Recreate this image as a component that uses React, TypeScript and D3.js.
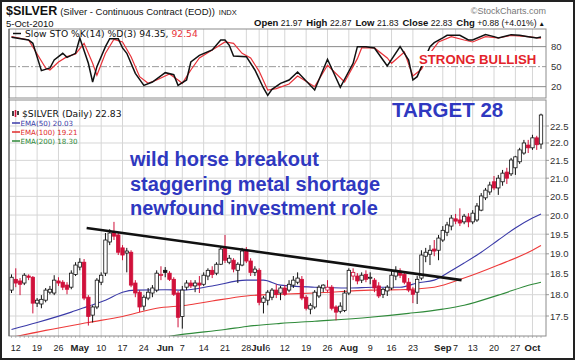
import React, { useEffect, useRef } from 'react';
import * as d3 from 'd3';

// Trading days shown on the chart (weekends + market holidays skipped)
const firstDay = "2010-04-09";
const lastDay = "2010-10-05";
const holidays = ["2010-05-31", "2010-07-05", "2010-09-06"];

// Daily OHLC, one value per trading day (Apr 9 .. Oct 5)
const openP = [
  18.11, 18.37, 18.33, 18.28, 18.45, 18.42, 17.80, 17.78, 17.87, 18.06,
  18.04, 18.33, 18.30, 18.23, 18.18, 18.49, 18.67, 18.79, 17.94, 17.52,
  17.71, 18.30, 18.52, 19.30, 19.55, 19.48, 19.15, 19.02, 19.04, 18.28,
  18.06, 17.73, 17.92, 18.04, 18.11, 18.47, 18.59, 18.52, 18.37, 18.04,
  17.49, 18.18, 18.28, 18.21, 18.28, 18.25, 18.45, 18.59, 18.52, 18.74,
  19.15, 18.79, 18.84, 18.59, 18.72, 19.09, 18.82, 18.54, 18.59, 17.82,
  17.87, 17.94, 18.11, 18.04, 18.16, 18.11, 18.23, 18.30, 18.37, 17.94,
  17.66, 17.71, 17.97, 18.16, 18.11, 18.18, 17.71, 17.61, 17.63, 18.04,
  18.45, 18.45, 18.35, 18.49, 18.40, 18.35, 18.21, 18.01, 18.09, 18.16,
  18.45, 18.57, 18.49, 18.30, 18.11, 18.06, 18.40, 18.94, 18.99, 19.12,
  19.09, 19.35, 19.55, 19.71, 19.90, 19.87, 19.82, 19.95, 19.82, 19.87,
  20.13, 20.46, 20.62, 20.90, 20.73, 20.90, 21.17, 21.12, 21.29, 21.46,
  21.71, 21.94, 21.86, 22.15, 21.97
];
const highP = [
  18.49, 18.64, 18.40, 18.52, 18.49, 18.45, 17.92, 17.99, 18.16, 18.21,
  18.47, 18.42, 18.35, 18.30, 18.59, 18.79, 18.89, 18.87, 17.99, 17.75,
  18.40, 18.54, 19.53, 19.63, 19.82, 19.55, 19.22, 19.15, 19.09, 18.35,
  18.11, 17.99, 18.16, 18.23, 18.59, 18.69, 18.67, 18.57, 18.42, 18.09,
  18.21, 18.35, 18.35, 18.35, 18.45, 18.54, 18.64, 18.69, 18.79, 19.20,
  19.48, 18.97, 18.89, 18.79, 19.15, 19.17, 18.89, 18.69, 18.64, 17.97,
  18.11, 18.16, 18.25, 18.21, 18.23, 18.35, 18.45, 18.54, 18.45, 17.99,
  17.80, 18.11, 18.23, 18.25, 18.35, 18.23, 17.75, 17.82, 18.11, 18.64,
  18.64, 18.52, 18.54, 18.59, 18.54, 18.40, 18.30, 18.16, 18.23, 18.59,
  18.69, 18.64, 18.54, 18.40, 18.18, 18.45, 19.09, 19.15, 19.22, 19.35,
  19.48, 19.71, 19.82, 20.00, 20.03, 20.18, 20.03, 20.05, 20.13, 20.32,
  20.59, 20.73, 20.90, 21.06, 21.09, 21.23, 21.29, 21.57, 21.63, 21.86,
  22.09, 22.09, 22.24, 22.21, 22.87
];
const lowP = [
  18.04, 18.18, 17.99, 18.23, 18.35, 17.56, 17.71, 17.68, 17.82, 18.01,
  17.99, 18.21, 18.11, 18.01, 18.13, 18.45, 18.59, 17.87, 17.28, 17.35,
  17.66, 18.23, 18.45, 19.22, 19.35, 18.97, 18.84, 18.54, 18.18, 17.94,
  17.59, 17.63, 17.87, 17.94, 18.06, 18.35, 18.42, 18.33, 17.97, 17.24,
  17.21, 18.11, 18.16, 18.06, 18.04, 18.21, 18.35, 18.40, 18.47, 18.72,
  18.77, 18.74, 18.54, 18.28, 18.69, 18.77, 18.45, 18.45, 17.75, 17.56,
  17.75, 17.87, 17.92, 17.87, 17.97, 18.06, 18.16, 18.25, 17.87, 17.63,
  17.54, 17.66, 17.92, 18.06, 18.06, 17.63, 17.40, 17.56, 17.59, 17.99,
  18.35, 18.25, 18.28, 18.30, 18.25, 18.06, 17.92, 17.92, 17.97, 18.11,
  18.35, 18.40, 18.25, 18.06, 17.80, 17.78, 18.35, 18.79, 18.72, 18.94,
  18.84, 19.30, 19.45, 19.60, 19.76, 19.71, 19.76, 19.68, 19.76, 19.82,
  20.10, 20.40, 20.54, 20.67, 20.54, 20.79, 20.84, 21.06, 21.09, 21.40,
  21.66, 21.71, 21.80, 21.80, 21.83
];
const closeP = [
  18.42, 18.28, 18.25, 18.47, 18.42, 17.80, 17.87, 17.89, 18.11, 18.13,
  18.35, 18.28, 18.18, 18.13, 18.52, 18.72, 18.79, 17.92, 17.49, 17.71,
  18.35, 18.47, 19.35, 19.53, 19.45, 19.04, 18.97, 19.07, 18.23, 18.04,
  17.71, 17.94, 18.06, 18.16, 18.52, 18.49, 18.54, 18.37, 18.01, 17.47,
  18.11, 18.28, 18.21, 18.28, 18.23, 18.47, 18.59, 18.49, 18.74, 19.12,
  18.84, 18.89, 18.62, 18.74, 19.07, 18.82, 18.54, 18.62, 17.82, 17.92,
  18.06, 18.11, 18.01, 18.16, 18.01, 18.25, 18.35, 18.40, 17.92, 17.68,
  17.75, 18.06, 18.18, 18.23, 18.18, 17.68, 17.59, 17.73, 18.04, 18.59,
  18.54, 18.33, 18.47, 18.37, 18.42, 18.16, 17.97, 18.13, 18.18, 18.47,
  18.59, 18.47, 18.30, 18.11, 18.01, 18.37, 18.97, 19.04, 19.09, 19.07,
  19.40, 19.60, 19.74, 19.92, 19.84, 19.79, 19.97, 19.82, 20.05, 20.24,
  20.51, 20.67, 20.81, 20.73, 21.00, 21.14, 21.00, 21.51, 21.60, 21.80,
  22.00, 21.86, 22.15, 21.95, 22.83
];

// Moving averages: [trading day index, price]
const ema50 = [
  [0, 17.19], [6, 17.35], [14, 17.59], [18, 17.73], [22, 17.87], [26, 18.06], [29, 18.11],
  [36, 18.12], [40, 18.11], [47, 18.21], [55, 18.35], [59, 18.35], [63, 18.23], [71, 18.18],
  [79, 18.16], [85, 18.18], [91, 18.18], [95, 18.28], [99, 18.35], [102, 18.52], [106, 18.77],
  [110, 19.04], [114, 19.35], [118, 19.66], [122, 19.92], [124, 20.03]
];
const ema100 = [
  [0, 17.01], [8, 17.17], [18, 17.35], [26, 17.49], [34, 17.68], [41, 17.75], [47, 17.85],
  [55, 17.97], [63, 18.01], [71, 18.04], [84, 18.11], [91, 18.12], [99, 18.18], [106, 18.40],
  [114, 18.72], [122, 19.09], [124, 19.21]
];
const ema200 = [
  [31, 16.94], [40, 17.08], [50, 17.19], [55, 17.26], [63, 17.33], [71, 17.38], [84, 17.47],
  [93, 17.56], [101, 17.66], [106, 17.75], [114, 17.99], [122, 18.25], [124, 18.30]
];
const trendLine = [[17.6, 19.66], [105.4, 18.35]];

// Slow stochastics: [trading day index, value]
const stoK = [
  [0, 94], [4, 90], [5, 85], [7, 44], [9, 48], [10, 60], [12, 70], [13, 64], [15, 70], [16, 93],
  [18, 55], [19, 27], [20, 50], [22, 80], [23, 92], [25, 92], [26, 78], [27, 70], [29, 40], [31, 22],
  [33, 27], [36, 41], [38, 38], [39, 22], [41, 30], [42, 57], [44, 67], [47, 75], [49, 90], [50, 90],
  [51, 82], [52, 66], [55, 65], [57, 45], [59, 18], [60, 7], [61, 16], [63, 25], [65, 30], [67, 42],
  [71, 15], [74, 61], [77, 19], [80, 55], [81, 80], [83, 80], [85, 78], [87, 60], [88, 51], [91, 80],
  [93, 60], [94, 30], [95, 35], [96, 50], [98, 80], [99, 86], [101, 93], [102, 97], [105, 97], [107, 90],
  [108, 90], [111, 98], [113, 95], [114, 93], [117, 98], [119, 97], [121, 95], [123, 93], [124, 94.35]
];
const stoD = [
  [0, 95], [4, 90], [8, 48], [9, 45], [11, 57], [13, 65], [15, 69], [17, 85], [19, 55], [20, 37],
  [22, 70], [24, 91], [26, 87], [28, 65], [30, 35], [32, 25], [34, 30], [37, 39], [39, 30], [40, 25],
  [42, 45], [44, 63], [47, 75], [50, 87], [52, 85], [54, 70], [56, 63], [58, 43], [60, 15], [62, 17],
  [65, 24], [67, 36], [71, 20], [74, 52], [78, 27], [81, 62], [82, 78], [85, 78], [88, 63], [89, 55],
  [92, 72], [94, 36], [96, 46], [98, 70], [100, 87], [103, 95], [106, 90], [108, 87], [111, 95], [114, 93],
  [117, 97], [121, 95], [124, 92.54]
];

const xTicks = [
  ["2010-04-12", "12"], ["2010-04-19", "19"], ["2010-04-26", "26"], ["2010-05-03", "May"],
  ["2010-05-10", "10"], ["2010-05-17", "17"], ["2010-05-24", "24"], ["2010-06-01", "Jun"],
  ["2010-06-07", "7"], ["2010-06-14", "14"], ["2010-06-21", "21"], ["2010-06-28", "28"],
  ["2010-07-01", "Jul"], ["2010-07-06", "6"], ["2010-07-12", "12"], ["2010-07-19", "19"],
  ["2010-07-26", "26"], ["2010-08-02", "Aug"], ["2010-08-09", "9"], ["2010-08-16", "16"],
  ["2010-08-23", "23"], ["2010-09-01", "Sep"], ["2010-09-07", "7"], ["2010-09-13", "13"],
  ["2010-09-20", "20"], ["2010-09-27", "27"], ["2010-10-01", "Oct"]
];
const priceTicks = [17.5, 18.0, 18.5, 19.0, 19.5, 20.0, 20.5, 21.0, 21.5, 22.0, 22.5];
const stoTicks = [20, 50, 80];
const notes = ["wild horse breakout", "staggering metal shortage", "newfound investment role"];

function tradingDays() {
  const out: string[] = [];
  const skip = new Set(holidays);
  const end = new Date(lastDay + "T12:00:00Z");
  for (let d = new Date(firstDay + "T12:00:00Z"); d <= end; d.setUTCDate(d.getUTCDate() + 1)) {
    const wd = d.getUTCDay();
    const s = d.toISOString().slice(0, 10);
    if (wd === 0 || wd === 6 || skip.has(s)) continue;
    out.push(s);
  }
  return out;
}

const SANS = "'Liberation Sans', Arial, sans-serif";
const SMALL = "'DejaVu Sans', Verdana, sans-serif";

export default function App() {
  const svgRef = useRef<SVGSVGElement>(null);

  useEffect(() => {
    if (!svgRef.current) return;
    const svg = d3.select(svgRef.current);
    svg.selectAll('*').remove();

    const days = tradingDays();
    const left = 9, right = 546;
    const sto = { top: 29, bottom: 98 };
    const main = { top: 100, bottom: 336 };

    const x = d3.scaleLinear().domain([0, days.length - 1]).range([11.5, 541]);
    const yP = d3.scaleLog().domain([17.5, 22.5]).range([316, 126]);
    const yS = d3.scaleLinear().domain([0, 100]).range([100, 33.3]);

    svg.append("rect").attr("width", 575).attr("height", 360).attr("fill", "#fff");

    const defs = svg.append("defs");
    defs.append("clipPath").attr("id", "clipSto").append("rect")
      .attr("x", left).attr("y", sto.top).attr("width", right - left).attr("height", sto.bottom - sto.top);
    defs.append("clipPath").attr("id", "clipMain").append("rect")
      .attr("x", left).attr("y", main.top).attr("width", right - left).attr("height", main.bottom - main.top);

    const ticks = xTicks.map(t => ({ i: days.indexOf(t[0]), label: t[1], month: !/^\d/.test(t[1]) }));

    // vertical grid in both panels
    [sto, main].forEach(p => {
      ticks.forEach(t => {
        svg.append("line")
          .attr("x1", x(t.i)).attr("x2", x(t.i))
          .attr("y1", p.top).attr("y2", p.bottom)
          .attr("stroke", "#d6d6d6").attr("stroke-width", 1);
      });
    });

    // price grid
    priceTicks.forEach(p => {
      svg.append("line")
        .attr("x1", left).attr("x2", right)
        .attr("y1", yP(p)).attr("y2", yP(p))
        .attr("stroke", "#d6d6d6").attr("stroke-width", 1);
      svg.append("line")
        .attr("x1", right).attr("x2", right + 3)
        .attr("y1", yP(p)).attr("y2", yP(p))
        .attr("stroke", "#999");
      svg.append("text")
        .attr("x", 550).attr("y", yP(p) + 3.5)
        .attr("font-family", SANS).attr("font-size", 9.5).attr("fill", "#333")
        .text(d3.format(".1f")(p));
    });

    // stochastic levels
    stoTicks.forEach(v => {
      svg.append("line")
        .attr("x1", left).attr("x2", right)
        .attr("y1", yS(v)).attr("y2", yS(v))
        .attr("stroke", v === 50 ? "#9a9a9a" : "#8a8a8a")
        .attr("stroke-width", 1)
        .attr("stroke-dasharray", v === 50 ? "7,2,2,2" : null);
      svg.append("text")
        .attr("x", 551).attr("y", yS(v) + 3.5)
        .attr("font-family", SANS).attr("font-size", 9.5).attr("fill", "#333")
        .text(v);
    });

    // stochastic lines
    const gs = svg.append("g").attr("clip-path", "url(#clipSto)");
    const stoLine = d3.line<number[]>().x(d => x(d[0])).y(d => yS(d[1]));
    gs.append("path").datum(stoD).attr("d", stoLine as any)
      .attr("fill", "none").attr("stroke", "#e8333a").attr("stroke-width", 1.2);
    gs.append("path").datum(stoK).attr("d", stoLine as any)
      .attr("fill", "none").attr("stroke", "#111").attr("stroke-width", 1.5);

    // price panel
    const gm = svg.append("g").attr("clip-path", "url(#clipMain)");
    const emaLine = d3.line<number[]>().x(d => x(d[0])).y(d => yP(d[1])).curve(d3.curveMonotoneX);
    [[ema200, "#2f8a3a"], [ema100, "#ee3b3b"], [ema50, "#3a3aa8"]].forEach(([data, color]) => {
      gm.append("path").datum(data as number[][]).attr("d", emaLine as any)
        .attr("fill", "none").attr("stroke", color as string).attr("stroke-width", 1.1);
    });

    const bw = 3.4;
    days.forEach((_, i) => {
      const o = openP[i], c = closeP[i];
      const h = Math.max(highP[i], o, c), l = Math.min(lowP[i], o, c);
      const prev = i > 0 ? closeP[i - 1] : o;
      const color = c >= prev ? "#111" : "#d0103a";
      const hollow = c > o;
      const cx = x(i);
      gm.append("line")
        .attr("x1", cx).attr("x2", cx).attr("y1", yP(h)).attr("y2", yP(l))
        .attr("stroke", color).attr("stroke-width", 1);
      const top = yP(Math.max(o, c)), bot = yP(Math.min(o, c));
      gm.append("rect")
        .attr("x", cx - bw / 2).attr("y", top)
        .attr("width", bw).attr("height", Math.max(1, bot - top))
        .attr("fill", hollow ? "#fff" : color)
        .attr("stroke", color).attr("stroke-width", 0.8);
    });

    gm.append("line")
      .attr("x1", x(trendLine[0][0])).attr("y1", yP(trendLine[0][1]))
      .attr("x2", x(trendLine[1][0])).attr("y2", yP(trendLine[1][1]))
      .attr("stroke", "#111").attr("stroke-width", 2.6);

    // day ticks along the bottom
    days.forEach((_, i) => {
      svg.append("line")
        .attr("x1", x(i)).attr("x2", x(i)).attr("y1", main.bottom).attr("y2", main.bottom + 2)
        .attr("stroke", "#b0b0b0").attr("stroke-width", 0.8);
    });

    // panel frames
    [sto, main].forEach(p => {
      svg.append("rect")
        .attr("x", left).attr("y", p.top)
        .attr("width", right - left).attr("height", p.bottom - p.top)
        .attr("fill", "none").attr("stroke", "#8c8c8c").attr("stroke-width", 1);
    });
    svg.append("line").attr("x1", left).attr("x2", left).attr("y1", sto.top).attr("y2", main.bottom)
      .attr("stroke", "#555").attr("stroke-width", 1);

    // x labels (a month label crowding the next date label moves a hair left)
    ticks.forEach((t, k) => {
      const next = ticks[k + 1];
      const shift = t.month && next && next.i - t.i <= 2 ? -1 : 0;
      svg.append("text")
        .attr("x", x(t.i) + shift).attr("y", 351)
        .attr("text-anchor", "middle")
        .attr("font-family", SANS)
        .attr("font-size", t.month ? 9.5 : 9)
        .attr("font-weight", t.month ? "bold" : "normal")
        .attr("fill", "#222")
        .text(t.label);
    });

    // header
    const title = svg.append("text").attr("x", 6).attr("y", 15).attr("font-family", SANS).attr("fill", "#111");
    title.append("tspan").attr("font-size", 12.5).attr("font-weight", "bold").text("$SILVER");
    title.append("tspan").attr("font-size", 9.5).attr("dx", 3).text("(Silver - Continuous Contract (EOD))");
    title.append("tspan").attr("font-size", 7.5).attr("dx", 4).text("INDX");
    svg.append("text").attr("x", 6).attr("y", 26.5).attr("font-family", SANS).attr("font-size", 9.5)
      .attr("fill", "#111").text("5-Oct-2010");
    svg.append("text").attr("x", 546).attr("y", 14).attr("text-anchor", "end")
      .attr("font-family", SANS).attr("font-size", 9).attr("fill", "#777").text("\u00A9StockCharts.com");

    const quote = svg.append("text").attr("x", 545).attr("y", 26).attr("text-anchor", "end")
      .attr("font-family", SANS).attr("fill", "#111");
    [["Open", "21.97"], ["High", "22.87"], ["Low", "21.83"], ["Close", "22.83"], ["Chg", "+0.88 (+4.01%)"]]
      .forEach(([k, v], i) => {
        quote.append("tspan").attr("font-size", 9.5).attr("font-weight", "bold").attr("dx", i ? 4 : 0).text(k);
        quote.append("tspan").attr("font-size", 8.6).attr("dx", 2.5).text(v);
      });
    quote.append("tspan").attr("font-size", 6.5).attr("dx", 2).text("\u25B2");

    // stochastic legend
    svg.append("line").attr("x1", 13).attr("x2", 21).attr("y1", 33.5).attr("y2", 33.5)
      .attr("stroke", "#111").attr("stroke-width", 1.5);
    const sl = svg.append("text").attr("x", 25).attr("y", 37)
      .attr("font-family", SMALL).attr("font-size", 9.2).attr("fill", "#111");
    sl.append("tspan").text("Slow STO %K(14) %D(3) 94.35, ");
    sl.append("tspan").attr("fill", "#e8333a").text("92.54");

    // price legend
    const ic = svg.append("g");
    [[13, 111, 116, "#111"], [15.5, 110, 117, "#d0103a"], [18, 111, 115, "#111"]].forEach(([cx, y1, y2, col]) => {
      ic.append("line").attr("x1", cx).attr("x2", cx).attr("y1", y1).attr("y2", y2)
        .attr("stroke", col as string).attr("stroke-width", 1.6);
    });
    svg.append("text").attr("x", 22).attr("y", 117)
      .attr("font-family", SMALL).attr("font-size", 9.2).attr("fill", "#111")
      .text("$SILVER (Daily) 22.83");
    [["EMA(50) 20.03", "#3a3aa8", 125.5], ["EMA(100) 19.21", "#e02b2b", 134.5], ["EMA(200) 18.30", "#2f8a3a", 143.5]]
      .forEach(([label, color, y]) => {
        svg.append("line").attr("x1", 12).attr("x2", 20).attr("y1", (y as number) - 2.5).attr("y2", (y as number) - 2.5)
          .attr("stroke", color as string).attr("stroke-width", 1.5);
        svg.append("text").attr("x", 20.5).attr("y", y as number)
          .attr("font-family", SMALL).attr("font-size", 7.1).attr("fill", color as string)
          .text(label as string);
      });

    // annotations
    notes.forEach((n, i) => {
      svg.append("text").attr("x", 130).attr("y", 166 + i * 24.5)
        .attr("font-family", SANS).attr("font-size", 20).attr("font-weight", "bold")
        .attr("fill", "#2f38c0").text(n);
    });
    svg.append("text").attr("x", 392).attr("y", 117)
      .attr("font-family", SANS).attr("font-size", 20.5).attr("font-weight", "bold")
      .attr("fill", "#2f38c0").text("TARGET 28");

    svg.append("rect").attr("x", 416).attr("y", 51).attr("width", 124).attr("height", 15).attr("fill", "#fff");
    svg.append("text").attr("x", 419).attr("y", 63.5)
      .attr("font-family", SANS).attr("font-size", 13.2).attr("font-weight", "bold")
      .attr("fill", "#e3242b").text("STRONG BULLISH");

    // outer frame
    svg.append("rect").attr("x", 1).attr("y", 1).attr("width", 573).attr("height", 358)
      .attr("fill", "none").attr("stroke", "#222").attr("stroke-width", 2);
  }, []);

  return (
    <div style={{ position: 'absolute', left: 0, top: 0 }}>
      <svg
        ref={svgRef}
        width={575}
        height={360}
        viewBox="0 0 575 360"
        style={{ display: 'block' }}
      />
    </div>
  );
}
